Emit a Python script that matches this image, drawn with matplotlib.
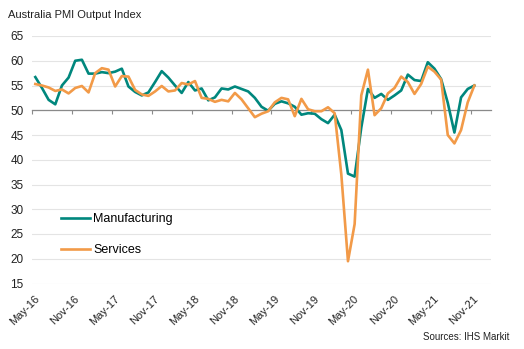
import matplotlib
matplotlib.use("Agg")
import matplotlib.pyplot as plt
import matplotlib.transforms as mtransforms
import numpy as np

plt.rcParams['font.family'] = ['Liberation Sans', 'DejaVu Sans']

# Monthly readings, May-16 .. Nov-21
manufacturing = [56.7, 54.5, 52.1, 51.2, 55.0, 56.6, 60.0, 60.2, 57.4, 57.4,
                 57.7, 57.5, 57.8, 58.4, 54.8, 53.7, 53.0, 53.6, 55.7, 57.9,
                 56.6, 55.0, 53.5, 55.7, 54.0, 54.4, 52.0, 52.6, 54.4, 54.2,
                 54.8, 54.3, 53.8, 52.5, 50.7, 49.9, 51.3, 51.8, 51.4, 50.7,
                 49.1, 49.4, 49.3, 48.2, 47.4, 49.1, 46.0, 37.2, 36.6, 46.5,
                 54.3, 52.5, 53.3, 52.1, 53.0, 54.0, 57.2, 56.1, 55.9, 59.7,
                 58.4, 56.3, 51.5, 45.5, 52.6, 54.3, 55.0]
services = [55.3, 55.0, 54.6, 53.9, 54.2, 53.4, 54.5, 54.9, 53.6, 57.5,
            58.5, 58.2, 54.8, 56.9, 56.8, 54.1, 53.2, 52.9, 53.8, 54.9,
            53.8, 54.0, 55.5, 55.2, 55.9, 52.5, 52.3, 51.7, 52.1, 51.8,
            53.5, 52.2, 50.4, 48.6, 49.3, 49.8, 51.6, 52.5, 52.2, 48.8,
            52.3, 50.2, 49.8, 49.8, 50.6, 49.4, 37.0, 19.5, 27.0, 53.0,
            58.2, 49.0, 50.4, 53.4, 54.5, 56.8, 55.7, 53.3, 55.3, 58.8,
            57.8, 56.2, 45.0, 43.3, 46.0, 51.6, 55.0]
tick_labels = ['May-16', 'Nov-16', 'May-17', 'Nov-17', 'May-18', 'Nov-18',
               'May-19', 'Nov-19', 'May-20', 'Nov-20', 'May-21', 'Nov-21']

green = '#00877D'
orange = '#F29A48'

months = np.arange(len(manufacturing)) + 0.5
tick_pos = np.arange(len(tick_labels)) * 6

fig = plt.figure(figsize=(5.24, 3.49), dpi=100)
ax = fig.add_axes([32 / 524, 1 - 283.5 / 349, 459 / 524, 247.5 / 349])

ax.plot(months, manufacturing, color=green, lw=1.9, label='Manufacturing', zorder=3)
ax.plot(months, services, color=orange, lw=1.9, label='Services', zorder=4)

ax.set_xlim(0, 69)
ax.set_ylim(15, 65)
ax.set_yticks(np.arange(15, 66, 5))
ax.grid(axis='y', color='#e4e4e4', lw=0.8)
ax.set_axisbelow(True)

for s in ['top', 'right', 'left']:
    ax.spines[s].set_visible(False)
# x axis crosses at 50
ax.spines['bottom'].set_position(('data', 50))
ax.spines['bottom'].set_color('#8a8a8a')
ax.spines['bottom'].set_linewidth(0.9)
ax.spines['bottom'].set_zorder(2)
ax.set_xticks(tick_pos)
ax.tick_params(axis='x', direction='out', length=3, width=0.8, color='#8a8a8a',
               labelbottom=False)
ax.tick_params(axis='y', length=0, pad=6, labelsize=8.5, labelcolor='#222222')

# labels sit at the bottom of the plot
sec = ax.secondary_xaxis('bottom')
sec.spines['bottom'].set_visible(False)
sec.set_xticks(tick_pos, labels=tick_labels)
sec.tick_params(length=0, pad=4, labelsize=8, labelcolor='#222222')
shift = mtransforms.ScaledTranslation(6 / 100, -8 / 100, fig.dpi_scale_trans)
for lab in sec.get_xticklabels():
    lab.set_rotation(45)
    lab.set_ha('right')
    lab.set_rotation_mode('anchor')
    lab.set_va('center')
    lab.set_transform(lab.get_transform() + shift)

ax.legend(loc='upper left', bbox_to_anchor=(61 / 524, 1 - 213 / 349),
          bbox_transform=fig.transFigure, frameon=False, fontsize=9,
          handlelength=2.3, handletextpad=0.3, labelspacing=1.55,
          borderpad=0, borderaxespad=0)

fig.text(8 / 524, 1 - 17.5 / 349, 'Australia PMI Output Index', fontsize=8,
         color='#222222', va='baseline', ha='left')
fig.text(509 / 524, 1 - 340 / 349, 'Sources: IHS Markit', fontsize=7,
         color='#222222', va='baseline', ha='right')

fig.savefig('out.png', dpi=100)
